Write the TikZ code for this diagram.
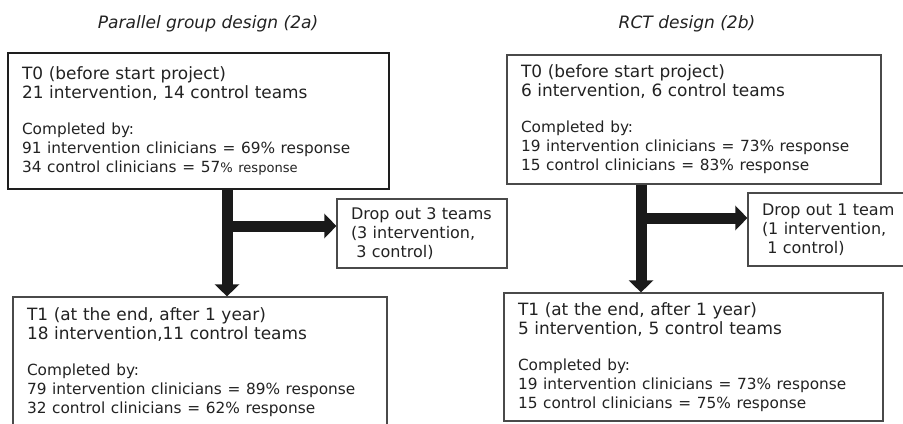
\documentclass[tikz,border=0pt]{standalone}
\usepackage{fontspec}
\setmainfont{DejaVu Sans}
\usepackage{xcolor}
\usepackage{tikz}
\usetikzlibrary{arrows.meta}
\definecolor{ink}{HTML}{222222}
\definecolor{frame}{HTML}{4A4A4A}
\definecolor{strong}{HTML}{1E1E1E}
\definecolor{shaft}{HTML}{1A1A1A}
\newcommand{\bigLn}{\fontsize{12.7}{14.25}\selectfont}
\newcommand{\smallLn}{\fontsize{11.5}{14.25}\selectfont}
\newcommand{\tinyLn}{\fontsize{9.8}{14.25}\selectfont}
\newcommand{\dropLn}{\fontsize{12}{14.25}\selectfont}
\tikzset{
  phaseBox/.style={draw=frame, line width=0.9pt, text=ink, align=left,
    inner xsep=10.5pt, inner ysep=0pt, font=\bigLn},
  dropBox/.style={phaseBox, font=\dropLn, text width=106.5pt, minimum width=127.5pt},
  titleLbl/.style={text=ink, font=\fontsize{12.8}{14}\selectfont\itshape},
  flowArrow/.style={draw=shaft, line width=8.25pt,
    -{Triangle[length=9pt,width=18pt]}},
}

\begin{document}
\begin{tikzpicture}[x=0.75pt,y=-0.75pt]
  \useasboundingbox (0,0) rectangle (903,424);

  % titles
  \node[titleLbl] (ttla) at (208,24) {Parallel group design (2a)};
  \node[titleLbl] (ttlb) at (687,24) {RCT design (2b)};

  % parallel group design
  \node[phaseBox, draw=strong, line width=1.4pt, minimum width=285.75pt,
        minimum height=102pt, text width=264.75pt] (t0a) at (198.5,121)
    {T0 (before start project)\\
     21 intervention, 14 control teams\\[12.75pt]
     \smallLn Completed by:\\
     91 intervention clinicians = 69\% response\\
     34 control clinicians = 57{\tinyLn\% response}};
  \node[dropBox, minimum height=51.75pt] (dropa) at (422,233.5)
    {Drop out 3 teams\\
     (3 intervention,\\
     \ 3 control)};
  \node[phaseBox, minimum width=280.5pt, minimum height=97.5pt,
        text width=259.5pt] (t1a) at (200,362)
    {T1 (at the end, after 1 year)\\
     18 intervention,11 control teams\\[12.75pt]
     \smallLn Completed by:\\
     79 intervention clinicians = 89\% response\\
     32 control clinicians = 62\% response};

  \coordinate (xa) at (227,0);
  \coordinate (ja) at (227,226);
  \draw[flowArrow] (t0a.south -| xa) -- (t1a.north -| xa);
  \draw[flowArrow] (ja) -- (dropa.west |- ja);

  % RCT design
  \node[phaseBox, minimum width=280.5pt, minimum height=96.75pt,
        text width=259.5pt] (t0b) at (694,119.5)
    {T0 (before start project)\\
     6 intervention, 6 control teams\\[12.75pt]
     \smallLn Completed by:\\
     19 intervention clinicians = 73\% response\\
     15 control clinicians = 83\% response};
  \node[dropBox, text width=110.25pt, minimum width=131.25pt,
        minimum height=54.75pt] (dropb) at (835.5,229.5)
    {Drop out 1 team\\
     (1 intervention,\\
     \ 1 control)};
  \node[phaseBox, minimum width=284.25pt, minimum height=96pt,
        text width=263.25pt] (t1b) at (693.5,357)
    {T1 (at the end, after 1 year)\\
     5 intervention, 5 control teams\\[12.75pt]
     \smallLn Completed by:\\
     19 intervention clinicians = 73\% response\\
     15 control clinicians = 75\% response};

  \coordinate (xb) at (641,0);
  \coordinate (jb) at (641,218);
  \draw[flowArrow] (t0b.south -| xb) -- (t1b.north -| xb);
  \draw[flowArrow] (jb) -- (dropb.west |- jb);
\end{tikzpicture}
\end{document}
